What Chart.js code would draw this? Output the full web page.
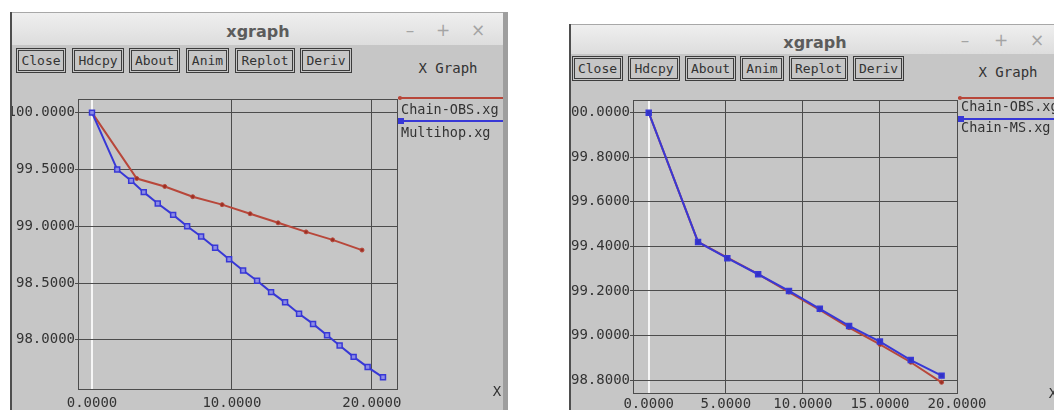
<!DOCTYPE html>
<html>
<head>
<meta charset="utf-8">
<script src="https://cdn.jsdelivr.net/npm/chart.js@4.4.1/dist/chart.umd.min.js"></script>
<style>
html, body { margin: 0; padding: 0; background: #fff; width: 1054px; height: 410px; overflow: hidden; position: relative; }
.win { position: absolute; background: #c6c6c6; box-sizing: border-box; border-left: 2px solid #4e4e4e; border-right: 5px solid #9e9e9e; }
.titlebar { position: absolute; background: linear-gradient(#efefef, #dddddd); border-top: 1px solid #a8a8a8; box-sizing: border-box; }
.c { position: absolute; transform: translate(-50%, -50%); white-space: nowrap; }
.title { font: bold 16px "DejaVu Sans"; color: #5c5c5c; }
.ctrl { font: 17px "DejaVu Sans"; color: #a4a4a4; }
.btn { position: absolute; top: 0; height: 25px; box-sizing: border-box; border: 3px double #3c3c3c; font: 13px "DejaVu Sans Mono"; color: #333; line-height: 19px; text-align: center; }
.lbl { font: 14px "DejaVu Sans Mono"; color: #333; }
canvas { position: absolute; }
</style>
</head>
<body>

<!-- left window -->
<div class="win" style="left:10px;top:12px;width:498px;height:410px;"></div>
<div class="titlebar" style="left:12px;top:12px;width:491px;height:33px;"></div>
<span class="c title" style="left:258px;top:31px;">xgraph</span>
<span class="c ctrl" style="left:410px;top:30px;">–</span>
<span class="c ctrl" style="left:443px;top:30px;">+</span>
<span class="c ctrl" style="left:478px;top:30px;">×</span>
<div style="position:absolute;left:0;top:48px;">
  <div class="btn" style="left:16px;width:50px;">Close</div>
  <div class="btn" style="left:72px;width:52px;">Hdcpy</div>
  <div class="btn" style="left:129px;width:51px;">About</div>
  <div class="btn" style="left:186px;width:43px;">Anim</div>
  <div class="btn" style="left:235px;width:60px;">Replot</div>
  <div class="btn" style="left:300px;width:52px;">Deriv</div>
</div>
<span class="c lbl" style="left:448px;top:68px;">X Graph</span>
<canvas id="leftChart" width="491" height="334" style="left:12px;top:76px;"></canvas>
<span class="c lbl" style="left:497px;top:391px;">X</span>

<!-- right window -->
<div class="win" style="left:569px;top:24px;width:520px;height:410px;"></div>
<div class="titlebar" style="left:571px;top:24px;width:500px;height:30px;"></div>
<span class="c title" style="left:815px;top:42px;">xgraph</span>
<span class="c ctrl" style="left:965px;top:40px;">–</span>
<span class="c ctrl" style="left:1001px;top:40px;">+</span>
<span class="c ctrl" style="left:1037px;top:40px;">×</span>
<div style="position:absolute;left:0;top:56px;">
  <div class="btn" style="left:572px;width:51px;">Close</div>
  <div class="btn" style="left:628px;width:52px;">Hdcpy</div>
  <div class="btn" style="left:685px;width:51px;">About</div>
  <div class="btn" style="left:740px;width:44px;">Anim</div>
  <div class="btn" style="left:789px;width:59px;">Replot</div>
  <div class="btn" style="left:853px;width:51px;">Deriv</div>
</div>
<span class="c lbl" style="left:1008px;top:72px;">X Graph</span>
<canvas id="rightChart" width="483" height="326" style="left:571px;top:84px;"></canvas>
<span class="c lbl" style="left:1053px;top:393px;">X</span>

<script>

// left window: Chain-OBS.xg vs Multihop.xg
const leftObsX = [0, 3.2, 5.2, 7.2, 9.3, 11.3, 13.3, 15.3, 17.2, 19.3];
const leftObsY = [100, 99.42, 99.35, 99.26, 99.19, 99.11, 99.03, 98.95, 98.88, 98.79];
const multihopX = [0, 1.8, 2.8, 3.7, 4.7, 5.8, 6.8, 7.8, 8.8, 9.8, 10.8, 11.8, 12.8, 13.8, 14.8, 15.8, 16.8, 17.7, 18.7, 19.7, 20.8];
const multihopY = [100, 99.50, 99.40, 99.30, 99.20, 99.10, 99.00, 98.91, 98.81, 98.71, 98.61, 98.52, 98.42, 98.33, 98.23, 98.14, 98.04, 97.95, 97.85, 97.76, 97.67];
const leftXTicks = [0, 10, 20];
const leftYTicks = [98, 98.5, 99, 99.5, 100];

// right window: Chain-OBS.xg vs Chain-MS.xg
const rightObsX = [0, 3.2, 5.1, 7.1, 9.1, 11.1, 13.0, 15.0, 17.0, 19.0];
const rightObsY = [100, 99.42, 99.35, 99.275, 99.195, 99.115, 99.035, 98.96, 98.88, 98.79];
const chainMsX = [0, 3.2, 5.1, 7.1, 9.1, 11.1, 13.0, 15.0, 17.0, 19.0];
const chainMsY = [100, 99.42, 99.347, 99.275, 99.20, 99.12, 99.043, 98.973, 98.89, 98.82];
const rightXTicks = [0, 5, 10, 15, 20];
const rightYTicks = [98.8, 99, 99.2, 99.4, 99.6, 99.8, 100];

const RED = '#b8473a';
const BLUE = '#3838d6';
const GRID = '#4c4c4c';
const TICK_FONT = { family: 'DejaVu Sans Mono', size: 14 };

// draws the plot frame (top and right sides are not covered by axis borders)
const framePlugin = {
    id: 'xgFrame',
    beforeDatasetsDraw(chart) {
        const a = chart.chartArea;
        const ctx = chart.ctx;
        ctx.save();
        ctx.strokeStyle = GRID;
        ctx.lineWidth = 1;
        ctx.strokeRect(a.left + 0.5, a.top + 0.5, a.right - a.left, a.bottom - a.top);
        ctx.restore();
    }
};

// xgraph style legend: coloured line across, file name underneath
const legendPlugin = {
    id: 'xgLegend',
    afterDraw(chart, args, opts) {
        const a = chart.chartArea;
        const ctx = chart.ctx;
        ctx.save();
        chart.data.datasets.forEach((ds, i) => {
            const y = a.top + opts.lineTop + i * opts.gap;
            ctx.strokeStyle = ds.borderColor;
            ctx.lineWidth = 2;
            ctx.beginPath();
            ctx.moveTo(a.right + 1, y);
            ctx.lineTo(chart.width, y);
            ctx.stroke();
            ctx.fillStyle = ds.borderColor;
            if (ds.pointStyle === 'rect') {
                ctx.fillRect(a.right + 1, y - 3, 6, 6);
            } else {
                ctx.beginPath();
                ctx.arc(a.right + 3, y, 2, 0, Math.PI * 2);
                ctx.fill();
            }
            ctx.fillStyle = '#333';
            ctx.font = '13.5px "DejaVu Sans Mono"';
            ctx.textBaseline = 'middle';
            ctx.fillText(ds.label, a.right + 4, y + opts.textOffset);
        });
        ctx.restore();
    }
};

function series(label, xs, ys, color, style) {
    return {
        label: label,
        data: xs.map((x, i) => ({ x: x, y: ys[i] })),
        showLine: true,
        borderColor: color,
        borderWidth: 2,
        pointStyle: style.shape,
        pointRadius: style.radius,
        pointBackgroundColor: style.fill,
        pointBorderColor: color,
        pointBorderWidth: style.borderWidth,
        order: style.order
    };
}

function makeChart(canvasId, datasets, cfg) {
    return new Chart(document.getElementById(canvasId), {
        type: 'scatter',
        data: { datasets: datasets },
        plugins: [framePlugin, legendPlugin],
        options: {
            responsive: false,
            animation: false,
            layout: { padding: { top: cfg.top, right: cfg.right, left: 0, bottom: 0 } },
            plugins: {
                legend: { display: false },
                tooltip: { enabled: false },
                xgLegend: cfg.legend
            },
            scales: {
                x: {
                    type: 'linear',
                    min: cfg.xMin,
                    max: cfg.xMax,
                    afterBuildTicks: (scale) => { scale.ticks = cfg.xTicks.map(v => ({ value: v })); },
                    afterFit: (scale) => { scale.height = cfg.xHeight; },
                    grid: {
                        color: (c) => (c.tick && c.tick.value === 0 ? '#f6f6f6' : GRID),
                        lineWidth: (c) => (c.tick && c.tick.value === 0 ? 2 : 1),
                        drawTicks: false
                    },
                    border: { color: GRID },
                    ticks: {
                        font: TICK_FONT,
                        color: '#333',
                        padding: cfg.xPad,
                        maxRotation: 0,
                        callback: (v) => v.toFixed(4)
                    }
                },
                y: {
                    type: 'linear',
                    min: cfg.yMin,
                    max: cfg.yMax,
                    afterBuildTicks: (scale) => { scale.ticks = cfg.yTicks.map(v => ({ value: v })); },
                    afterFit: (scale) => { scale.width = cfg.yWidth; },
                    grid: { color: GRID, lineWidth: 1, tickLength: 3 },
                    border: { color: GRID },
                    ticks: {
                        font: TICK_FONT,
                        color: '#333',
                        padding: 0,
                        callback: (v) => v.toFixed(4)
                    }
                }
            }
        }
    });
}

const redDot = { shape: 'circle', radius: 2, fill: '#9a3024', borderWidth: 1, order: 1 };

makeChart('leftChart', [
    series('Chain-OBS.xg', leftObsX, leftObsY, RED, redDot),
    series('Multihop.xg', multihopX, multihopY, BLUE,
        { shape: 'rect', radius: 3.5, fill: '#8c8ce6', borderWidth: 1.5, order: 0 })
], {
    top: 23, right: 106, yWidth: 66, xHeight: 21, xPad: 6,
    xMin: -1.0, xMax: 21.8, yMin: 97.567, yMax: 100.12,
    xTicks: leftXTicks, yTicks: leftYTicks,
    legend: { lineTop: -1, gap: 23, textOffset: 12 }
});

makeChart('rightChart', [
    series('Chain-OBS.xg', rightObsX, rightObsY, RED, redDot),
    series('Chain-MS.xg', chainMsX, chainMsY, BLUE,
        { shape: 'rect', radius: 3.5, fill: '#3232c4', borderWidth: 1.5, order: 0 })
], {
    top: 16, right: 97, yWidth: 62, xHeight: 17, xPad: 3,
    xMin: -1.02, xMax: 20.0, yMin: 98.742, yMax: 100.057,
    xTicks: rightXTicks, yTicks: rightYTicks,
    legend: { lineTop: -2, gap: 21, textOffset: 9 }
});
</script>
</body>
</html>
